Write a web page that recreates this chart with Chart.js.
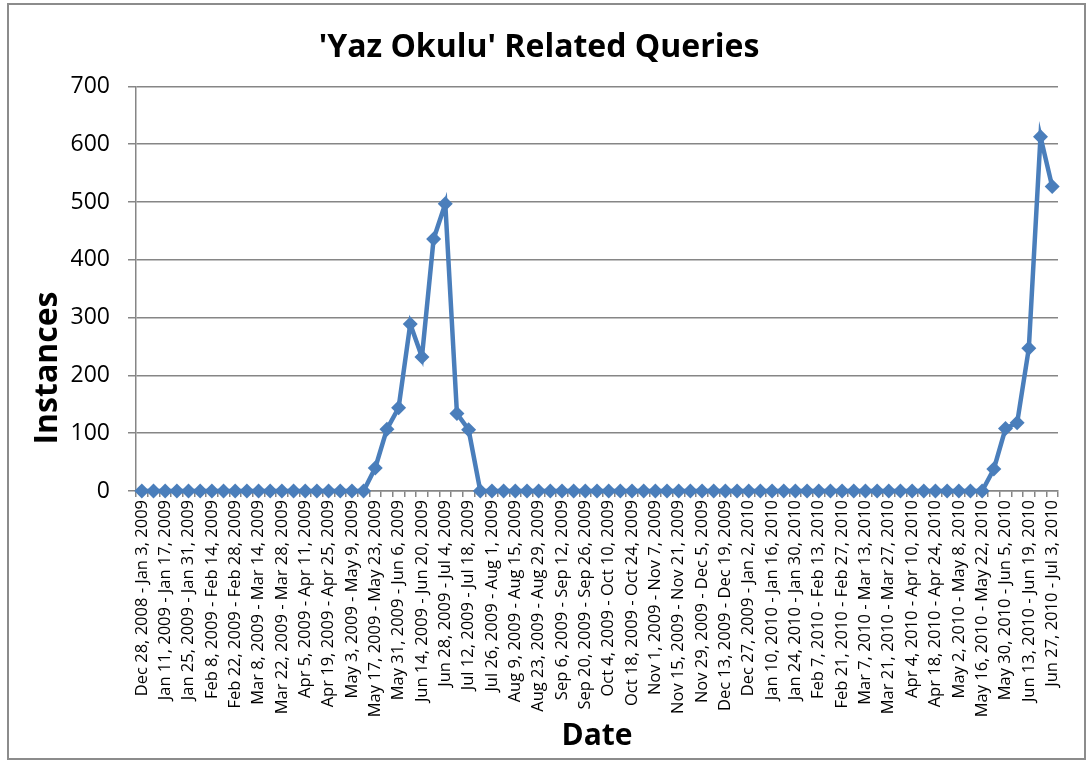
<!DOCTYPE html>
<html>
<head>
<meta charset="utf-8">
<script src="https://cdn.jsdelivr.net/npm/chart.js@4/dist/chart.umd.min.js"></script>
<style>
  html, body { margin: 0; padding: 0; background: #fff; }
  #wrap { width: 1092px; height: 762px; position: relative; }
</style>
</head>
<body>
<div id="wrap"><canvas id="c" width="1092" height="762"></canvas></div>
<script>
const weekLabels = [
  "Dec 28, 2008 - Jan 3, 2009","Jan 4, 2009 - Jan 10, 2009","Jan 11, 2009 - Jan 17, 2009","Jan 18, 2009 - Jan 24, 2009",
  "Jan 25, 2009 - Jan 31, 2009","Feb 1, 2009 - Feb 7, 2009","Feb 8, 2009 - Feb 14, 2009","Feb 15, 2009 - Feb 21, 2009",
  "Feb 22, 2009 - Feb 28, 2009","Mar 1, 2009 - Mar 7, 2009","Mar 8, 2009 - Mar 14, 2009","Mar 15, 2009 - Mar 21, 2009",
  "Mar 22, 2009 - Mar 28, 2009","Mar 29, 2009 - Apr 4, 2009","Apr 5, 2009 - Apr 11, 2009","Apr 12, 2009 - Apr 18, 2009",
  "Apr 19, 2009 - Apr 25, 2009","Apr 26, 2009 - May 2, 2009","May 3, 2009 - May 9, 2009","May 10, 2009 - May 16, 2009",
  "May 17, 2009 - May 23, 2009","May 24, 2009 - May 30, 2009","May 31, 2009 - Jun 6, 2009","Jun 7, 2009 - Jun 13, 2009",
  "Jun 14, 2009 - Jun 20, 2009","Jun 21, 2009 - Jun 27, 2009","Jun 28, 2009 - Jul 4, 2009","Jul 5, 2009 - Jul 11, 2009",
  "Jul 12, 2009 - Jul 18, 2009","Jul 19, 2009 - Jul 25, 2009","Jul 26, 2009 - Aug 1, 2009","Aug 2, 2009 - Aug 8, 2009",
  "Aug 9, 2009 - Aug 15, 2009","Aug 16, 2009 - Aug 22, 2009","Aug 23, 2009 - Aug 29, 2009","Aug 30, 2009 - Sep 5, 2009",
  "Sep 6, 2009 - Sep 12, 2009","Sep 13, 2009 - Sep 19, 2009","Sep 20, 2009 - Sep 26, 2009","Sep 27, 2009 - Oct 3, 2009",
  "Oct 4, 2009 - Oct 10, 2009","Oct 11, 2009 - Oct 17, 2009","Oct 18, 2009 - Oct 24, 2009","Oct 25, 2009 - Oct 31, 2009",
  "Nov 1, 2009 - Nov 7, 2009","Nov 8, 2009 - Nov 14, 2009","Nov 15, 2009 - Nov 21, 2009","Nov 22, 2009 - Nov 28, 2009",
  "Nov 29, 2009 - Dec 5, 2009","Dec 6, 2009 - Dec 12, 2009","Dec 13, 2009 - Dec 19, 2009","Dec 20, 2009 - Dec 26, 2009",
  "Dec 27, 2009 - Jan 2, 2010","Jan 3, 2010 - Jan 9, 2010","Jan 10, 2010 - Jan 16, 2010","Jan 17, 2010 - Jan 23, 2010",
  "Jan 24, 2010 - Jan 30, 2010","Jan 31, 2010 - Feb 6, 2010","Feb 7, 2010 - Feb 13, 2010","Feb 14, 2010 - Feb 20, 2010",
  "Feb 21, 2010 - Feb 27, 2010","Feb 28, 2010 - Mar 6, 2010","Mar 7, 2010 - Mar 13, 2010","Mar 14, 2010 - Mar 20, 2010",
  "Mar 21, 2010 - Mar 27, 2010","Mar 28, 2010 - Apr 3, 2010","Apr 4, 2010 - Apr 10, 2010","Apr 11, 2010 - Apr 17, 2010",
  "Apr 18, 2010 - Apr 24, 2010","Apr 25, 2010 - May 1, 2010","May 2, 2010 - May 8, 2010","May 9, 2010 - May 15, 2010",
  "May 16, 2010 - May 22, 2010","May 23, 2010 - May 29, 2010","May 30, 2010 - Jun 5, 2010","Jun 6, 2010 - Jun 12, 2010",
  "Jun 13, 2010 - Jun 19, 2010","Jun 20, 2010 - Jun 26, 2010","Jun 27, 2010 - Jul 3, 2010"
];
const instances = [
  0,0,0,0,0,0,0,0,0,0,0,0,0,0,0,0,0,0,0,0,
  40,107,144,289,232,436,497,134,106,0,
  0,0,0,0,0,0,0,0,0,0,0,0,0,0,0,0,0,0,0,0,
  0,0,0,0,0,0,0,0,0,0,0,0,0,0,0,0,0,0,0,0,
  0,0,0,38,108,118,247,613,527
];
const yTicks = [0,100,200,300,400,500,600,700];
const chartTitle = "'Yaz Okulu' Related Queries";
const xTitle = "Date";
const yTitle = "Instances";

const FONT = "'Open Sans', Lato, sans-serif";
const borderPlugin = {
  id: 'outerBorder',
  beforeDraw(chart) {
    const ctx = chart.ctx;
    ctx.save();
    ctx.fillStyle = '#fff';
    ctx.fillRect(0, 0, chart.width, chart.height);
    ctx.strokeStyle = '#8c8c8c';
    ctx.lineWidth = 2;
    ctx.strokeRect(8, 4, 1077, 755);
    ctx.restore();
  },
  afterDraw(chart) {
    // y-axis title, placed as in the reference (below the axis centre)
    const ctx = chart.ctx;
    ctx.save();
    ctx.translate(48, 368);
    ctx.rotate(-Math.PI / 2);
    ctx.fillStyle = '#000';
    ctx.font = "bold 32px " + FONT;
    ctx.textAlign = 'center';
    ctx.textBaseline = 'middle';
    ctx.fillText(yTitle, 0, 0);
    ctx.restore();
  }
};

new Chart(document.getElementById('c'), {
  type: 'line',
  data: {
    labels: weekLabels,
    datasets: [{
      label: yTitle,
      data: instances,
      borderColor: '#4A7EBB',
      backgroundColor: '#4A7EBB',
      borderWidth: 4.5,
      pointStyle: 'rectRot',
      pointRadius: 7.5,
      pointBorderWidth: 0,
      tension: 0,
      clip: false
    }]
  },
  options: {
    responsive: false,
    animation: false,
    devicePixelRatio: 1,
    layout: { padding: { left: 20, right: 34, top: 0, bottom: 0 } },
    plugins: {
      legend: { display: false },
      tooltip: { enabled: false },
      title: {
        display: true,
        text: chartTitle,
        color: '#000',
        font: { family: FONT, size: 32, weight: 'bold' },
        padding: { top: 29, bottom: 19 }
      }
    },
    scales: {
      x: {
        type: 'category',
        offset: true,
        afterFit: s => { s.height = 271; },
        grid: { display: true, drawOnChartArea: false, drawTicks: true, tickLength: 6, color: '#868686', lineWidth: 1.5, offset: true },
        border: { display: true, color: '#868686', width: 1.5 },
        ticks: {
          autoSkip: false,
          minRotation: 90,
          maxRotation: 90,
          padding: 3,
          color: '#000',
          font: { family: FONT, size: 16.5 },
          callback: function(v, i) { return i % 2 === 0 ? weekLabels[i] : ''; }
        },
        title: {
          display: true,
          text: xTitle,
          color: '#000',
          font: { family: FONT, size: 30, weight: 'bold' },
          padding: { top: 0, bottom: 8 }
        }
      },
      y: {
        min: 0,
        max: 700,
        afterFit: s => { s.width = 116; },
        afterBuildTicks: s => { s.ticks = yTicks.map(v => ({ value: v })); },
        grid: { color: '#868686', lineWidth: 1.5, drawTicks: true, tickLength: 8 },
        border: { display: true, color: '#868686', width: 1.5 },
        ticks: {
          color: '#000',
          padding: 18,
          font: { family: FONT, size: 23 }
        },
        title: { display: false }
      }
    }
  },
  plugins: [borderPlugin]
});
</script>
</body>
</html>
